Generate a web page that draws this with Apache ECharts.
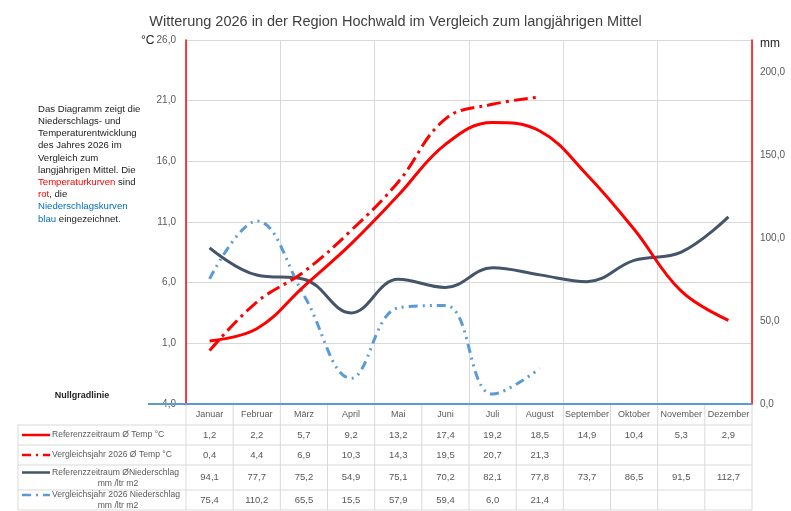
<!DOCTYPE html>
<html><head><meta charset="utf-8">
<script src="https://cdn.jsdelivr.net/npm/echarts@6/dist/echarts.min.js"></script>
<style>html,body{margin:0;background:#fff}#c{width:791px;height:511px}</style>
</head><body><div id="c"></div>
<script>
var months = ['Januar','Februar','März','April','Mai','Juni','Juli','August','September','Oktober','November','Dezember']
var refTemp = [1.2, 2.2, 5.7, 9.2, 13.2, 17.4, 19.2, 18.5, 14.9, 10.4, 5.3, 2.9]
var temp2026 = [0.4, 4.4, 6.9, 10.3, 14.3, 19.5, 20.7, 21.3, null, null, null, null]
var refRain = [94.1, 77.7, 75.2, 54.9, 75.1, 70.2, 82.1, 77.8, 73.7, 86.5, 91.5, 112.7]
var rain2026 = [75.4, 110.2, 65.5, 15.5, 57.9, 59.4, 6.0, 21.4, null, null, null, null]
var rowNames = [['Referenzzeitraum Ø Temp °C'], ['Vergleichsjahr 2026 Ø Temp °C'],
  ['Referenzzeitraum ØNiederschlag', 'mm /ltr m2'], ['Vergleichsjahr 2026 Niederschlag', 'mm /ltr m2']]

var chart = echarts.init(document.getElementById('c'))
var L = 186, R = 752, T = 40, B = 404
var colW = (R - L) / 12
var rowY = [404, 425, 445, 465, 490, 510]
var styles = [
  { stroke: '#FF0000', lineDash: null },
  { stroke: '#FF0000', lineDash: [14, 5, 3, 5] },
  { stroke: '#44546A', lineDash: null },
  { stroke: '#5B9BD5', lineDash: [9, 5, 2, 5, 2, 5] }
]
var tableData = [refTemp, temp2026, refRain, rain2026]
var fmt = function (v) { return v == null ? '' : v.toFixed(1).replace('.', ',') }
var g = []
var gridC = '#d9d9d9'
var tf = '9px "Liberation Sans", sans-serif'
for (var r = 1; r < rowY.length; r++) {
  g.push({ type: 'line', shape: { x1: 18, y1: rowY[r], x2: R, y2: rowY[r] }, style: { stroke: gridC } })
}
g.push({ type: 'line', shape: { x1: 18, y1: rowY[1], x2: 18, y2: rowY[5] }, style: { stroke: gridC } })
for (var m = 0; m <= 12; m++) {
  g.push({ type: 'line', shape: { x1: L + m * colW, y1: B, x2: L + m * colW, y2: rowY[5] }, style: { stroke: gridC } })
}
months.forEach(function (name, i) {
  g.push({ type: 'text', x: L + (i + 0.5) * colW, y: 415, style: { text: name, fill: '#595959', font: tf, align: 'center', verticalAlign: 'middle' } })
})
tableData.forEach(function (arr, r) {
  var cy = (rowY[r + 1] + rowY[r + 2]) / 2
  arr.forEach(function (v, i) {
    g.push({ type: 'text', x: L + (i + 0.5) * colW, y: cy, style: { text: fmt(v), fill: '#595959', font: '9.5px "Liberation Sans", sans-serif', align: 'center', verticalAlign: 'middle' } })
  })
  var lines = rowNames[r]
  var s = styles[r]
  var two = lines.length > 1
  var ly = two ? cy - 5 : cy
  g.push({ type: 'line', shape: { x1: 22, y1: ly, x2: 50, y2: ly }, style: { stroke: s.stroke, lineWidth: 2.5, lineDash: s.lineDash ? [9, 5, 2, 5] : null } })
  g.push({ type: 'text', x: 52, y: ly, style: { text: lines[0], fill: '#595959', font: '8.6px "Liberation Sans", sans-serif', align: 'left', verticalAlign: 'middle' } })
  if (two) g.push({ type: 'text', x: 118, y: cy + 6, style: { text: lines[1], fill: '#595959', font: '8.6px "Liberation Sans", sans-serif', align: 'center', verticalAlign: 'middle' } })
})
g.push({ type: 'line', shape: { x1: 148, y1: B, x2: R, y2: B }, style: { stroke: '#5B9BD5', lineWidth: 2 }, z: 10 })
g.push({ type: 'text', x: 82, y: 396, style: { text: 'Nullgradlinie', fill: '#222', font: 'bold 9px "Liberation Sans", sans-serif', align: 'center', verticalAlign: 'middle' } })
g.push({ type: 'text', x: 141, y: 35, style: { text: '°C', fill: '#222', font: '12px "Liberation Sans", sans-serif' } })
g.push({ type: 'text', x: 760, y: 38, style: { text: 'mm', fill: '#222', font: '12px "Liberation Sans", sans-serif' } })
g.push({ type: 'text', x: 38, y: 103, style: {
  text: '{k|Das Diagramm zeigt die}\n{k|Niederschlags- und}\n{k|Temperaturentwicklung}\n{k|des Jahres 2026 im}\n{k|Vergleich zum}\n{k|langjährigen Mittel. Die}\n{r|Temperaturkurven}{k| sind}\n{r|rot}{k|, die}\n{b|Niederschlagskurven}\n{b|blau}{k| eingezeichnet.}',
  font: '9.5px "Liberation Sans", sans-serif',
  rich: { k: { fill: '#222', fontSize: 9.6, lineHeight: 12.2 }, r: { fill: '#FF0000', fontSize: 9.6, lineHeight: 12.2 }, b: { fill: '#0070C0', fontSize: 9.6, lineHeight: 12.2 } }
} })

function ls(i) { return { color: styles[i].stroke, width: 3, type: styles[i].lineDash || 'solid' } }
var labelFont = { color: '#595959', fontSize: 10, fontFamily: 'Liberation Sans' }
var option = {
  title: { text: 'Witterung 2026 in der Region Hochwald im Vergleich zum langjährigen Mittel', left: 'center', top: 9, textStyle: { fontSize: 14.5, fontWeight: 'normal', color: '#404040', fontFamily: 'Liberation Sans' } },
  grid: { left: L, right: 791 - R, top: T, bottom: 511 - B },
  xAxis: { type: 'category', data: months, boundaryGap: true, axisLabel: { show: false }, axisTick: { show: false }, axisLine: { show: false }, splitLine: { show: true, lineStyle: { color: gridC } } },
  yAxis: [
    { type: 'value', min: -4, max: 26, interval: 5, axisLine: { show: true, lineStyle: { color: '#FF0000', width: 1.5 } }, axisLabel: Object.assign({ margin: 10, formatter: function (v) { return v.toFixed(1).replace('.', ',') } }, labelFont), splitLine: { lineStyle: { color: gridC } } },
    { type: 'value', min: 0, max: 219.3, interval: 50, position: 'right', axisLine: { show: true, lineStyle: { color: '#FF0000', width: 1.5 } }, axisLabel: Object.assign({ formatter: function (v) { return v % 50 === 0 ? v.toFixed(1).replace('.', ',') : '' } }, labelFont), splitLine: { show: false } }
  ],
  series: [
    { type: 'line', data: refTemp, smooth: 0.4, symbol: 'none', lineStyle: ls(0), z: 4 },
    { type: 'line', data: temp2026, smooth: 0.4, symbol: 'none', lineStyle: ls(1), z: 4 },
    { type: 'line', yAxisIndex: 1, data: refRain, smooth: 0.4, symbol: 'none', lineStyle: ls(2), z: 3 },
    { type: 'line', yAxisIndex: 1, data: rain2026, smooth: 0.4, symbol: 'none', lineStyle: ls(3), z: 3 }
  ],
  graphic: g
}
chart.setOption(option)
</script></body></html>
